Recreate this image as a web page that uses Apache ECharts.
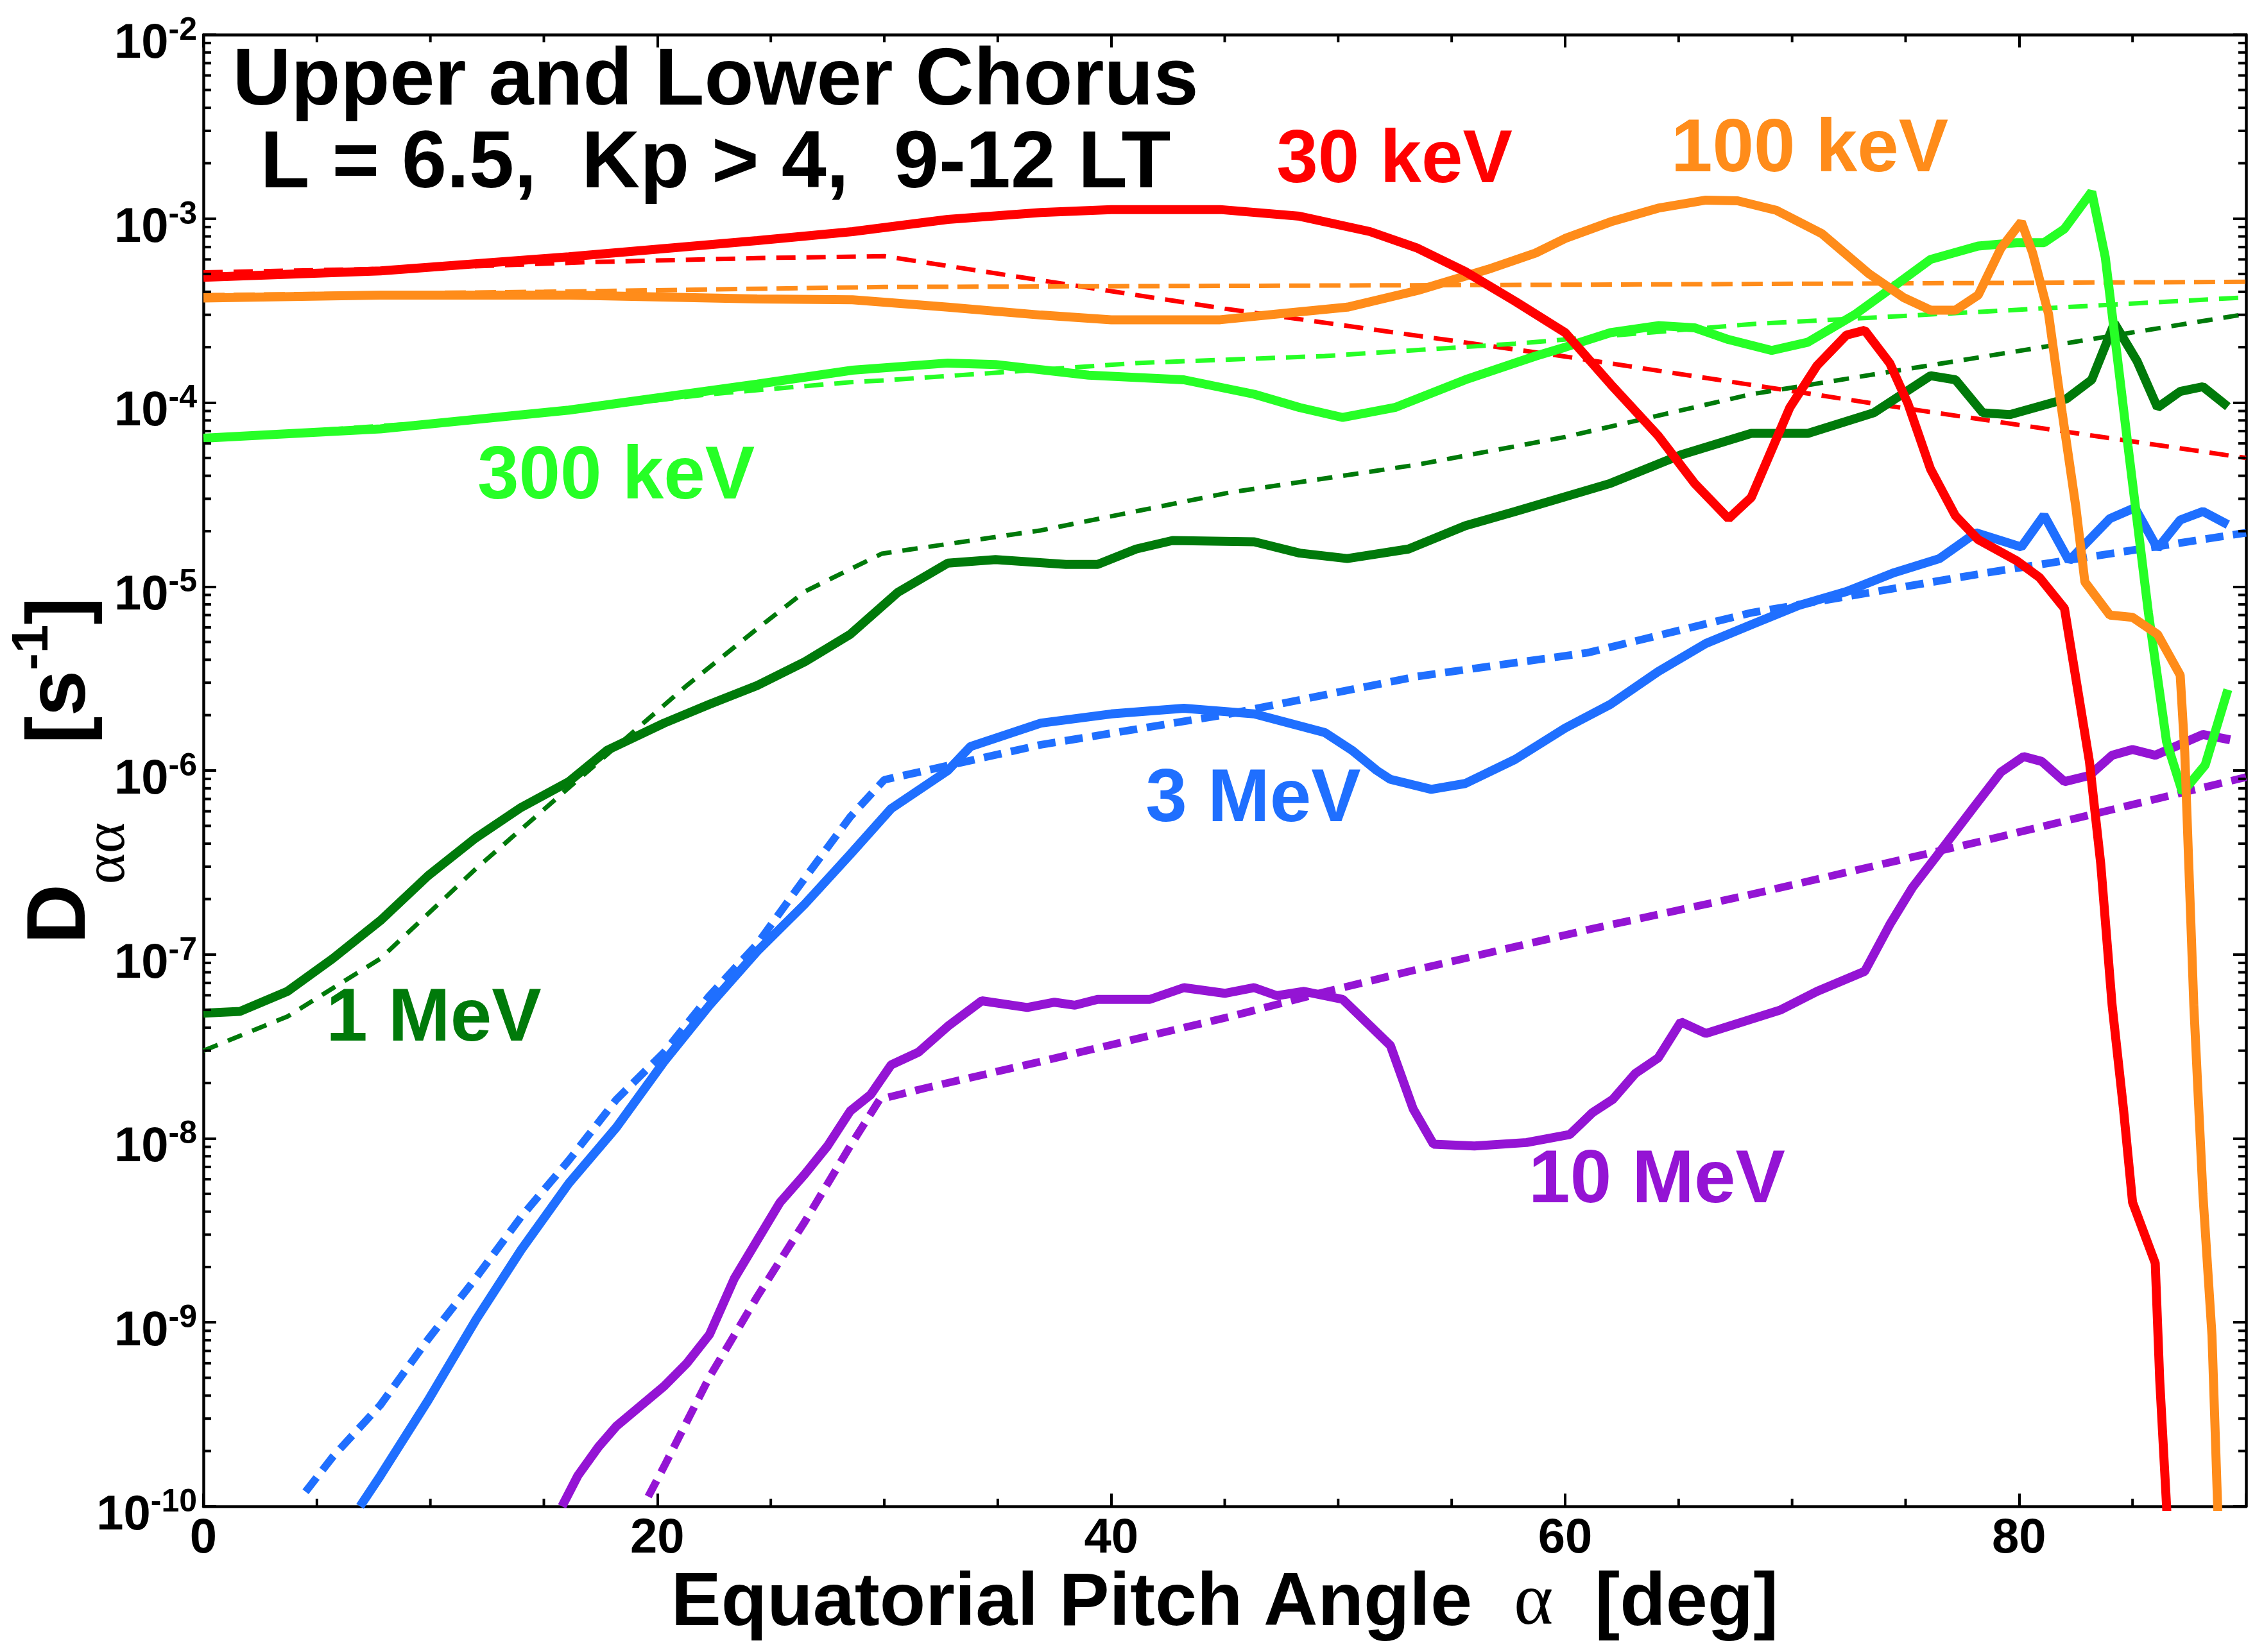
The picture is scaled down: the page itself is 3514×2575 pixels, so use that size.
<!DOCTYPE html>
<html><head><meta charset="utf-8">
<script src="https://cdn.jsdelivr.net/npm/echarts@6/dist/echarts.min.js"></script>
<style>html,body{margin:0;padding:0;background:#fff}#chart{width:3514px;height:2575px}</style>
</head><body><div id="chart"></div>
<script>
// ---- tick labels ----
const xTickLabels = [0, 20, 40, 60, 80];
const xMinorTicks = [5, 10, 15, 25, 30, 35, 45, 50, 55, 65, 70, 75, 85];
const yDecades = [-10, -9, -8, -7, -6, -5, -4, -3, -2];
const yMinorFactors = [2, 3, 4, 5, 6, 7, 8, 9];

// ---- 30 keV ----
const keV30_solid = [[0,4.8e-4],[7.8,5.2e-4],[16.1,6.2e-4],[24.4,7.6e-4],[28.6,8.5e-4],[32.8,9.9e-4],[36.9,1.08e-3],[40,1.12e-3],[44.8,1.12e-3],[48.3,1.03e-3],[51.4,8.5e-4],[53.5,6.9e-4],[55.6,5.15e-4],[57.8,3.55e-4],[60,2.4e-4],[62,1.26e-4],[64.1,6.6e-5],[65.7,3.64e-5],[67.2,2.34e-5],[68.2,3.05e-5],[69.9,9.4e-5],[71.1,1.59e-4],[72.4,2.33e-4],[73.2,2.47e-4],[74.3,1.64e-4],[75.1,9.9e-5],[76.1,4.35e-5],[77.2,2.42e-5],[78.2,1.8e-5],[79.9,1.38e-5],[80.9,1.12e-5],[82.0,7.6e-6],[83.1,1.12e-6],[83.6,3.1e-7],[84.1,5.3e-8],[84.6,1.45e-8],[85.0,4.5e-9],[86.0,2.1e-9],[86.2,4.8e-10],[86.5,1.0e-10],[86.6,5e-11]];
const keV30_dashed = [[0,5.1e-4],[10,5.4e-4],[17,5.8e-4],[24.4,6.1e-4],[30,6.25e-4],[45,3.24e-4],[60,1.78e-4],[75,9.3e-5],[90,5.0e-5]];

// ---- 100 keV ----
const keV100_solid = [[0,3.7e-4],[7.8,3.84e-4],[16.1,3.84e-4],[24.4,3.66e-4],[28.6,3.62e-4],[32.8,3.3e-4],[36.9,2.99e-4],[40,2.82e-4],[44.8,2.82e-4],[47.3,3.03e-4],[50.4,3.3e-4],[53.5,4.07e-4],[56.6,5.3e-4],[58.7,6.5e-4],[60,7.8e-4],[62,9.6e-4],[64.1,1.14e-3],[66.2,1.26e-3],[67.6,1.25e-3],[69.3,1.11e-3],[71.3,8.3e-4],[73.4,5.0e-4],[74.9,3.73e-4],[76.1,3.18e-4],[77.2,3.18e-4],[78.2,3.84e-4],[79.2,6.9e-4],[80.1,9.6e-4],[80.6,6.5e-4],[81.3,3.03e-4],[81.9,8.8e-5],[82.5,2.72e-5],[82.9,1.06e-5],[84.0,7.0e-6],[85.0,6.8e-6],[86.1,5.5e-6],[87.1,3.3e-6],[87.3,1.26e-6],[87.7,5.3e-8],[88.1,5.0e-9],[88.5,8.5e-10],[88.75,1.0e-10],[88.8,5e-11]];
const keV100_dashed = [[0,3.84e-4],[15,4.0e-4],[30,4.25e-4],[60,4.37e-4],[90,4.53e-4]];

// ---- 300 keV ----
const keV300_solid = [[0,6.4e-5],[7.8,7.2e-5],[16.1,9.1e-5],[24.4,1.26e-4],[28.6,1.5e-4],[32.8,1.64e-4],[34.9,1.61e-4],[39,1.41e-4],[43.2,1.33e-4],[46.3,1.11e-4],[48.3,9.4e-5],[50.2,8.3e-5],[52.5,9.4e-5],[55.6,1.33e-4],[58.7,1.79e-4],[60,2.0e-4],[62,2.4e-4],[64.1,2.62e-4],[65.7,2.55e-4],[67.2,2.2e-4],[69.1,1.92e-4],[70.7,2.13e-4],[72.8,3.03e-4],[74.5,4.3e-4],[76.1,6.0e-4],[78.2,7.1e-4],[79.9,7.4e-4],[81.1,7.4e-4],[82.0,8.8e-4],[83.2,1.4e-3],[83.8,6.15e-4],[84.1,3.03e-4],[84.8,5.8e-5],[85.7,7.2e-6],[86.5,1.43e-6],[87.2,7.6e-7],[88.2,1.07e-6],[89.2,2.75e-6]];
const keV300_dashed = [[0,6.4e-5],[10,7.8e-5],[16,9.0e-5],[22.3,1.11e-4],[28.5,1.29e-4],[30,1.32e-4],[41.1,1.64e-4],[49.4,1.79e-4],[57.8,2.09e-4],[68.2,2.67e-4],[78.6,3.13e-4],[90,3.73e-4]];

// ---- 1 MeV ----
const MeV1_solid = [[0,4.8e-8],[1.6,4.9e-8],[3.7,6.3e-8],[5.7,9.5e-8],[7.8,1.53e-7],[9.9,2.68e-7],[12.0,4.3e-7],[14.0,6.3e-7],[16.1,8.7e-7],[17.8,1.29e-6],[20.3,1.81e-6],[22.3,2.29e-6],[24.4,2.9e-6],[26.5,3.9e-6],[28.5,5.5e-6],[30.6,9.3e-6],[32.8,1.34e-5],[34.9,1.4e-5],[38,1.32e-5],[39.4,1.32e-5],[41.1,1.6e-5],[42.7,1.78e-5],[46.3,1.75e-5],[48.3,1.52e-5],[50.4,1.42e-5],[53.1,1.6e-5],[55.6,2.14e-5],[57.8,2.56e-5],[62,3.64e-5],[65.1,5.2e-5],[68.2,6.8e-5],[70.7,6.8e-5],[73.6,8.8e-5],[76.1,1.4e-4],[77.2,1.33e-4],[78.4,8.8e-5],[79.6,8.6e-5],[82.1,1.05e-4],[83.2,1.33e-4],[84.2,2.7e-4],[85.2,1.68e-4],[86.1,9.4e-5],[87.1,1.15e-4],[88.1,1.22e-4],[89.2,9.5e-5]];
const MeV1_dashed = [[0,3.0e-8],[3.7,4.6e-8],[7.8,9.5e-8],[12.0,2.92e-7],[15.7,7.3e-7],[21.3,2.9e-6],[24.4,5.9e-6],[26.5,9.4e-6],[29.9,1.51e-5],[36.9,2.02e-5],[45.2,3.24e-5],[53.5,4.6e-5],[60,6.5e-5],[68.2,1.11e-4],[78.6,1.79e-4],[90,3.03e-4]];

// ---- 3 MeV ----
const MeV3_solid = [[6.9,1.0e-10],[7.8,1.47e-10],[9.9,3.77e-10],[12.0,1.03e-9],[14.0,2.48e-9],[16.1,5.7e-9],[18.2,1.15e-8],[20.3,2.62e-8],[22.3,5.3e-8],[24.4,1.04e-7],[26.5,1.88e-7],[28.5,3.5e-7],[30.3,6.2e-7],[32.8,1.0e-6],[33.8,1.35e-6],[36.9,1.81e-6],[40,2.03e-6],[43.2,2.18e-6],[46.3,2.03e-6],[49.4,1.61e-6],[50.6,1.29e-6],[51.7,1.0e-6],[52.3,8.95e-7],[54.1,7.9e-7],[55.6,8.5e-7],[57.8,1.15e-6],[60,1.7e-6],[62,2.29e-6],[64.1,3.45e-6],[66.2,4.9e-6],[68.2,6.2e-6],[70.3,7.9e-6],[72.4,9.4e-6],[74.5,1.19e-5],[76.5,1.42e-5],[78.1,1.96e-5],[80.1,1.64e-5],[81.1,2.44e-5],[82.2,1.38e-5],[84.0,2.34e-5],[85.1,2.68e-5],[86.1,1.61e-5],[87.1,2.3e-5],[88.1,2.56e-5],[89.2,2.17e-5]];
const MeV3_dashed = [[4.5,1.2e-10],[5.7,1.86e-10],[7.8,3.56e-10],[9.9,8.1e-10],[12.0,1.74e-9],[14.0,3.75e-9],[16.1,7.6e-9],[18.2,1.63e-8],[20.3,2.94e-8],[22.3,5.97e-8],[24.4,1.14e-7],[26.5,2.6e-7],[28.5,5.6e-7],[30.0,8.9e-7],[36.9,1.38e-6],[45.2,2.03e-6],[53.5,3.25e-6],[61,4.37e-6],[68.2,7.2e-6],[78.6,1.19e-5],[90,1.96e-5]];

// ---- 10 MeV ----
const MeV10_solid = [[15.8,1.0e-10],[16.5,1.47e-10],[17.4,2.1e-10],[18.2,2.73e-10],[20.3,4.5e-10],[21.3,6.0e-10],[22.3,8.6e-10],[23.4,1.74e-9],[24.4,2.79e-9],[25.4,4.48e-9],[26.5,6.4e-9],[27.5,9.1e-9],[28.5,1.41e-8],[29.4,1.73e-8],[30.3,2.51e-8],[31.5,2.94e-8],[32.8,4.07e-8],[34.3,5.6e-8],[36.3,5.15e-8],[37.5,5.5e-8],[38.4,5.3e-8],[39.4,5.7e-8],[41.7,5.7e-8],[43.2,6.6e-8],[45.0,6.15e-8],[46.3,6.6e-8],[47.3,5.97e-8],[48.5,6.3e-8],[50.2,5.7e-8],[52.3,3.2e-8],[53.3,1.45e-8],[54.2,9.3e-9],[56.0,9.1e-9],[58.3,9.5e-9],[60.2,1.05e-8],[61.2,1.38e-8],[62.1,1.63e-8],[63.1,2.26e-8],[64.1,2.74e-8],[65.1,4.3e-8],[66.2,3.72e-8],[69.5,5.0e-8],[71.1,6.3e-8],[73.2,8.1e-8],[74.3,1.45e-7],[75.3,2.31e-7],[76.5,3.6e-7],[78.0,6.3e-7],[79.2,9.8e-7],[80.2,1.19e-6],[81.0,1.12e-6],[82.0,8.7e-7],[83.1,9.4e-7],[84.1,1.21e-6],[85.0,1.3e-6],[86.0,1.21e-6],[88.1,1.57e-6],[89.3,1.47e-6]];
const MeV10_dashed = [[19.6,1.13e-10],[20.3,1.65e-10],[22.3,5.06e-10],[24.4,1.38e-9],[26.5,3.53e-9],[28.5,9.1e-9],[29.8,1.63e-8],[31.9,1.89e-8],[36.9,2.62e-8],[45.2,4.58e-8],[49.4,6.25e-8],[53.5,8.3e-8],[61.2,1.38e-7],[68.2,2.12e-7],[78.6,4.2e-7],[90,9.2e-7]];

// ---- styling ----
const C = {red:'#ff0000', orange:'#ff8c1a', lime:'#26ff26', dkgreen:'#007a0a', blue:'#1f6fff', purple:'#9414d4'};
const FONT = '"Liberation Sans", Arial, Helvetica, sans-serif';
const SERIF = '"Liberation Serif", "DejaVu Serif", serif';

function solid(data, color) {
  return {type:'line', data, showSymbol:false, symbol:'none', animation:false, silent:true, z:3,
    lineStyle:{color, width:14}, itemStyle:{color}};
}
function dashed(data, color, width, dash) {
  return {type:'line', data, showSymbol:false, symbol:'none', animation:false, silent:true, z:2,
    lineStyle:{color, width, type:dash}, itemStyle:{color}};
}

const yMinorValues = [];
yDecades.slice(0, -1).forEach(d => yMinorFactors.forEach(f => yMinorValues.push(f * Math.pow(10, d))));

const axisLineStyle = {color:'#000', width:4.5};
const tickStyle = {color:'#000', width:4};

const chart = echarts.init(document.getElementById('chart'), null, {renderer:'canvas'});
chart.setOption({
  animation:false,
  backgroundColor:'#ffffff',
  textStyle:{fontFamily:FONT},
  grid:{left:317, right:14, top:54, bottom:227, containLabel:false, outerBoundsMode:'none'},
  xAxis:[
    {type:'value', min:0, max:90, interval:20, position:'bottom',
     axisLine:{show:true, onZero:false, lineStyle:axisLineStyle},
     axisTick:{show:true, inside:true, length:20, lineStyle:tickStyle},
     splitLine:{show:false},
     axisLabel:{show:true, margin:13, fontSize:76, fontWeight:'bold', color:'#000', fontFamily:FONT,
       showMinLabel:true, showMaxLabel:true,
       formatter:v => (xTickLabels.indexOf(v) >= 0 ? String(v) : '')},
     name:'{t|Equatorial Pitch Angle  }{a|α}{t|  [deg]}', nameLocation:'middle', nameGap:91,
     nameTextStyle:{rich:{
       t:{fontSize:117, fontWeight:'bold', color:'#000', fontFamily:FONT},
       a:{fontSize:117, fontWeight:'normal', color:'#000', fontFamily:SERIF}
     }}},
    {type:'value', min:0, max:90, interval:20, position:'top',
     axisLine:{show:true, onZero:false, lineStyle:axisLineStyle},
     axisTick:{show:true, inside:true, length:20, lineStyle:tickStyle},
     axisLabel:{show:false}, splitLine:{show:false}}
  ],
  yAxis:[
    {type:'log', logBase:10, min:1e-10, max:1e-2, position:'left',
     axisLine:{show:true, onZero:false, lineStyle:axisLineStyle},
     axisTick:{show:true, inside:true, length:20, lineStyle:tickStyle},
     minorTick:{show:false}, splitLine:{show:false},
     axisLabel:{show:true, margin:10, color:'#000', showMinLabel:true, showMaxLabel:true,
       formatter:v => '{b|10}{s|-' + Math.abs(Math.round(Math.log10(v))) + '}',
       rich:{
         b:{fontSize:76, fontWeight:'bold', color:'#000', fontFamily:FONT, padding:[30,0,0,0]},
         s:{fontSize:50, fontWeight:'bold', color:'#000', fontFamily:FONT, padding:[0,0,12,0]}
       }}},
    {type:'log', logBase:10, min:1e-10, max:1e-2, position:'right',
     axisLine:{show:true, onZero:false, lineStyle:axisLineStyle},
     axisTick:{show:true, inside:true, length:20, lineStyle:tickStyle},
     axisLabel:{show:false}, splitLine:{show:false}}
  ],
  series:[
    // minor ticks (x)
    {type:'custom', coordinateSystem:'cartesian2d', silent:true, z:10, clip:false, animation:false,
     data:xMinorTicks.map(v => [v, 1e-10]),
     renderItem:(params, api) => {
       const b = api.coord([api.value(0), 1e-10]);
       const t = api.coord([api.value(0), 1e-2]);
       return {type:'group', children:[
         {type:'line', shape:{x1:b[0], y1:b[1], x2:b[0], y2:b[1]-12}, style:{stroke:'#000', lineWidth:4}},
         {type:'line', shape:{x1:t[0], y1:t[1], x2:t[0], y2:t[1]+12}, style:{stroke:'#000', lineWidth:4}}
       ]};
     }},
    // minor ticks (y, log)
    {type:'custom', coordinateSystem:'cartesian2d', silent:true, z:10, clip:false, animation:false,
     data:yMinorValues.map(v => [0, v]),
     renderItem:(params, api) => {
       const l = api.coord([0, api.value(1)]);
       const r = api.coord([90, api.value(1)]);
       return {type:'group', children:[
         {type:'line', shape:{x1:l[0], y1:l[1], x2:l[0]+12, y2:l[1]}, style:{stroke:'#000', lineWidth:4}},
         {type:'line', shape:{x1:r[0], y1:r[1], x2:r[0]-12, y2:r[1]}, style:{stroke:'#000', lineWidth:4}}
       ]};
     }},
    dashed(keV30_dashed, C.red, 7, [30,17]),
    dashed(keV100_dashed, C.orange, 7, [33,14]),
    dashed(keV300_dashed, C.lime, 7, [30,17]),
    dashed(MeV1_dashed, C.dkgreen, 7, [24,17]),
    dashed(MeV3_dashed, C.blue, 12, [28,15]),
    dashed(MeV10_dashed, C.purple, 12, [28,15]),
    solid(MeV10_solid, C.purple),
    solid(MeV3_solid, C.blue),
    solid(MeV1_solid, C.dkgreen),
    solid(keV300_solid, C.lime),
    solid(keV100_solid, C.orange),
    solid(keV30_solid, C.red)
  ],
  graphic:[
    {type:'text', x:96, y:1201, rotation:Math.PI/2, silent:true,
     style:{text:'{D|D}{sub|αα}{sp|    }{br|[s}{sup|-1}{br|]}', align:'center', verticalAlign:'middle',
       rich:{
         D:{fontSize:129, fontWeight:'bold', fill:'#000', fontFamily:FONT},
         sub:{fontSize:92, fontWeight:'normal', fill:'#000', fontFamily:SERIF, padding:[145,0,0,0]},
         sp:{fontSize:110, fill:'#000', fontFamily:FONT},
         br:{fontSize:129, fontWeight:'bold', fill:'#000', fontFamily:FONT},
         sup:{fontSize:80, fontWeight:'bold', fill:'#000', fontFamily:FONT, padding:[0,0,89,0]}
       }}},
    {type:'text', x:1115, y:128, silent:true, style:{text:'Upper and Lower Chorus', font:'bold 126px ' + FONT, fill:'#000', align:'center', verticalAlign:'middle'}},
    {type:'text', x:1115, y:257, silent:true, style:{text:'L = 6.5,  Kp > 4,  9-12 LT', font:'bold 126px ' + FONT, fill:'#000', align:'center', verticalAlign:'middle'}},
    {type:'text', x:2173, y:252, silent:true, style:{text:'30 keV', font:'bold 116px ' + FONT, fill:C.red, align:'center', verticalAlign:'middle'}},
    {type:'text', x:2820, y:235, silent:true, style:{text:'100 keV', font:'bold 116px ' + FONT, fill:C.orange, align:'center', verticalAlign:'middle'}},
    {type:'text', x:960, y:745, silent:true, style:{text:'300 keV', font:'bold 116px ' + FONT, fill:C.lime, align:'center', verticalAlign:'middle'}},
    {type:'text', x:676, y:1590, silent:true, style:{text:'1 MeV', font:'bold 116px ' + FONT, fill:C.dkgreen, align:'center', verticalAlign:'middle'}},
    {type:'text', x:1953, y:1248, silent:true, style:{text:'3 MeV', font:'bold 116px ' + FONT, fill:C.blue, align:'center', verticalAlign:'middle'}},
    {type:'text', x:2582, y:1842, silent:true, style:{text:'10 MeV', font:'bold 116px ' + FONT, fill:C.purple, align:'center', verticalAlign:'middle'}}
  ]
});
</script></body></html>
